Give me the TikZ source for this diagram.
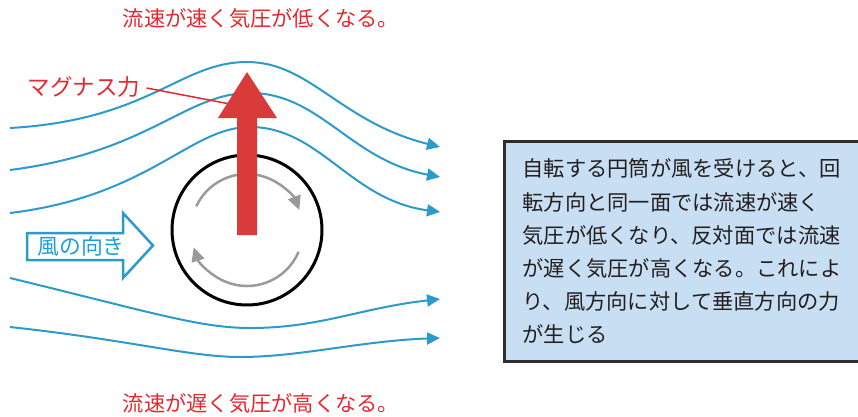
\documentclass[tikz,border=0pt]{standalone}
\usepackage{fontspec}
\setmainfont{Noto Sans CJK JP}
\usepackage{xcolor}
\usepackage{tikz}
\usetikzlibrary{arrows.meta}
\definecolor{flow}{HTML}{2C9ACB}
\definecolor{windtxt}{HTML}{1E9FD6}
\definecolor{force}{HTML}{D83B3A}
\definecolor{alert}{HTML}{E5282E}
\definecolor{spin}{HTML}{9A9A9C}
\definecolor{notefill}{HTML}{C8DFF3}
\definecolor{notedraw}{HTML}{2E2E2E}
\definecolor{ink}{HTML}{231F20}
\tikzset{
  stream/.style   = {draw=flow, line width=0.04cm,
                     -{Triangle[length=0.26cm,width=0.24cm]}},
  rot/.style      = {draw=spin, line width=0.05cm,
                     -{Triangle[length=0.28cm,width=0.26cm]}},
  redtxt/.style   = {text=alert, inner sep=0pt, font=\fontsize{12.1}{14}\selectfont},
  note/.style     = {rectangle, draw=notedraw, line width=0.06cm, fill=notefill,
                     anchor=north west, minimum width=7.3cm, minimum height=4.4cm,
                     inner xsep=0.36cm, text width=6.6cm, align=left, text=ink,
                     font=\fontsize{12.1}{18.9}\selectfont},
}

\begin{document}
\begin{tikzpicture}[x=0.02cm, y=-0.02cm]
  \useasboundingbox (0,0) rectangle (858,416);

  % air flow lines
  \draw[stream] (10,128) .. controls (150,120) and (180,62) .. (247,62)
                         .. controls (310,62) and (340,122) .. (440,147);
  \draw[stream] (10,170) .. controls (150,152) and (185,93) .. (250,93)
                         .. controls (320,93) and (350,160) .. (440,177);
  \draw[stream] (10,213) .. controls (150,196) and (190,127) .. (250,127)
                         .. controls (320,127) and (350,200) .. (440,212);
  \draw[stream] (10,278) .. controls (150,312) and (200,328) .. (250,328)
                         .. controls (320,328) and (360,308) .. (440,299);
  \draw[stream] (10,327) .. controls (130,340) and (190,357) .. (240,357)
                         .. controls (300,357) and (360,341) .. (440,338);

  % wind direction
  \draw[draw=flow, line width=0.05cm, fill=white]
    (27,233) -- (123,233) -- (123,213) -- (153,245.5) -- (123,278)
    -- (123,260) -- (27,260) -- cycle;
  \node[text=windtxt, inner sep=0pt, font=\fontsize{12.4}{14}\selectfont]
    (wind) at (81,246) {風の向き};

  % rotating cylinder
  \node[circle, draw=black, line width=0.06cm, minimum size=3cm] (cyl) at (247,230) {};
  \draw[rot] (cyl.center) ++(205:56) arc[start angle=205, end angle=339, radius=56];
  \draw[rot] (cyl.center) ++(23:56) arc[start angle=23, end angle=162, radius=56];

  % Magnus force
  \node[text=alert, inner sep=0pt, font=\fontsize{12.8}{14}\selectfont]
    (mag) at (84,87) {マグナス力};
  \coordinate (magtip) at (230,104);
  \draw[alert, line width=0.03cm] (mag.east) ++(6,1) -- (magtip);
  \fill[force] (237,235) -- (237,118) -- (218,118) -- (247,72) -- (277,118)
    -- (257,118) -- (257,235) -- cycle;

  \node[redtxt] (fast) at (261,18) {流速が速く気圧が低くなる。};
  \node[redtxt] (slow) at (261,403) {流速が遅く気圧が高くなる。};

  \node[note] (expl) at (503,140)
    {自転する円筒が風を受けると、回\\
     転方向と同一面では流速が速く\\
     気圧が低くなり、反対面では流速\\
     が遅く気圧が高くなる。これによ\\
     り、風方向に対して垂直方向の力\\
     が生じる};
\end{tikzpicture}
\end{document}
